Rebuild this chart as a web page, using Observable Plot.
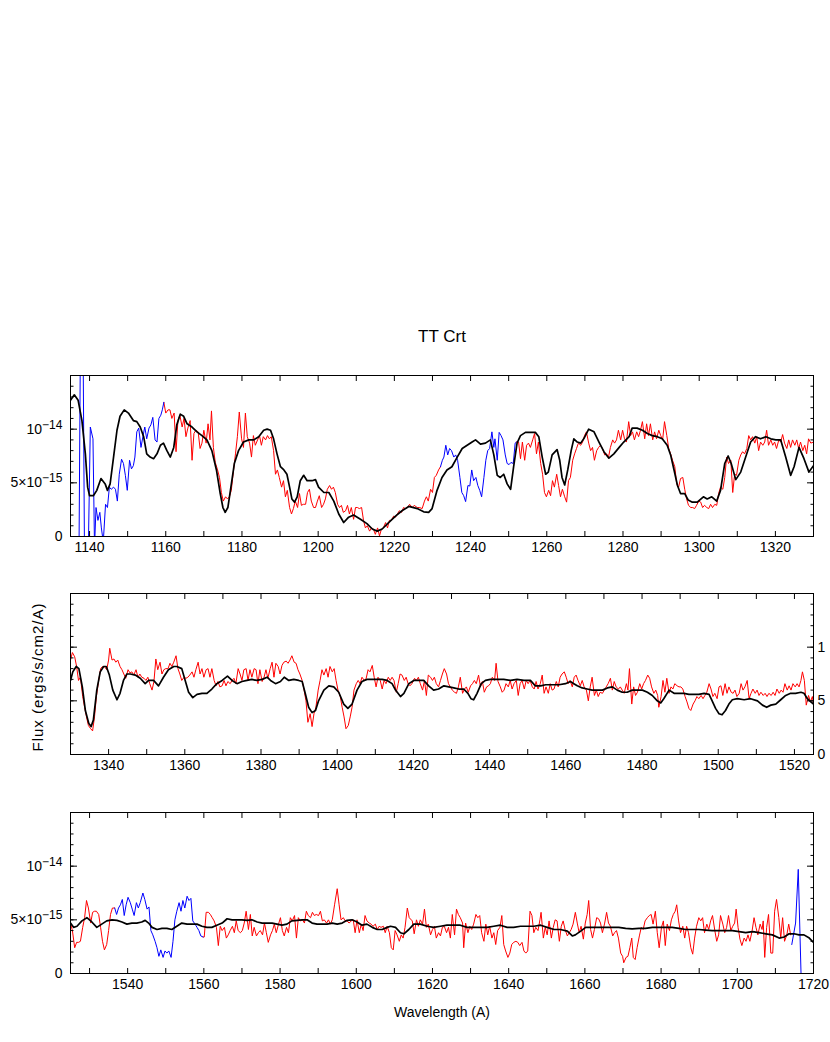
<!DOCTYPE html>
<html><head><meta charset="utf-8">
<script src="https://cdn.jsdelivr.net/npm/d3@7"></script>
<script src="https://cdn.jsdelivr.net/npm/@observablehq/plot@0.6"></script>
<style>
html,body{margin:0;padding:0;background:#fff;overflow:hidden;}
#page{position:relative;width:830px;height:1042px;background:#fff;}
#page svg{position:absolute;left:0;}
</style></head><body><div id="page"></div>
<script>
// Flux values are in units of 1e-15 erg/s/cm2/A; wavelengths in Angstrom.
const UNIT = 1e-15;
const title = "TT Crt";
const xTitle = "Wavelength (A)";
const yTitle = "Flux (ergs/s/cm2/A)";
const panelDomains = [[1135, 1330], [1330, 1525], [1525, 1720]];
const panel1Ticks = [1140,1160,1180,1200,1220,1240,1260,1280,1300,1320];
const panel2Ticks = [1340,1360,1380,1400,1420,1440,1460,1480,1500,1520];
const panel3Ticks = [1540,1560,1580,1600,1620,1640,1660,1680,1700,1720];
const yTickValues = [0, 5, 10];
const yTickLabels = ["0", "5×10^−15", "10^−14"];
const yTickLabelsRight = ["0", "5", "1"]; // as visible at the right edge of the middle panel

// ---- Panel 1 ----
const black1 = [[1135,12.7],[1136,13.2],[1137,12.7],[1138,10.8],[1138.9,7.7],[1139.5,4.6],[1140,3.8],[1141,3.8],[1141.9,4.3],[1143,5.4],[1144.1,4.9],[1144.7,4.3],[1145.4,4.9],[1146.3,7.4],[1147.2,9.9],[1148,11.2],[1149.1,11.8],[1150.2,11.5],[1151.5,10.8],[1152.4,10.7],[1153.3,10.2],[1154.2,9.3],[1155,7.7],[1155.9,7.4],[1156.8,7.25],[1157.7,7.7],[1158.6,8.5],[1159.4,8.7],[1160.3,8.0],[1161.2,7.4],[1162.1,8.3],[1162.9,10.4],[1163.8,11.4],[1164.7,11.2],[1165.6,10.5],[1166.9,10.2],[1168.2,9.75],[1169.5,9.4],[1170.8,9.0],[1172.1,8.0],[1173.3,6.2],[1174.3,4.0],[1175,2.7],[1175.6,2.25],[1176.3,2.7],[1177.1,4.6],[1178,6.8],[1179.1,8.0],[1180.4,8.8],[1181.8,9.0],[1183.1,9.0],[1184.4,9.3],[1185.7,9.9],[1186.6,10.0],[1187.5,9.9],[1188.3,9.1],[1189.2,7.7],[1190.1,6.5],[1191,6.2],[1191.8,5.8],[1192.5,4.6],[1193.1,3.5],[1193.8,3.2],[1194.5,3.7],[1195.3,5.2],[1196.2,5.7],[1197.1,5.2],[1198.4,5.2],[1199.3,5.3],[1200.1,4.6],[1201.5,4.1],[1202.8,4.1],[1204.1,3.3],[1205.4,2.1],[1206.7,1.3],[1208,1.8],[1209.3,2.0],[1211.1,1.6],[1212.8,1.2],[1214.2,0.7],[1215.5,0.5],[1216.8,0.7],[1218.5,1.3],[1220.3,1.9],[1222,2.4],[1223.8,2.8],[1226,2.6],[1227.7,2.3],[1229,2.25],[1229.9,2.6],[1231.2,4.3],[1232.5,5.5],[1233.8,6.2],[1235.1,6.5],[1236.5,7.4],[1237.8,8.2],[1239.1,8.5],[1240.4,8.8],[1241.3,9.0],[1242.6,8.6],[1243.9,8.7],[1245.2,9.0],[1246.1,7.6],[1247,5.7],[1247.8,5.5],[1248.7,5.8],[1249.6,4.9],[1250.5,4.4],[1251.3,6.5],[1252.2,8.7],[1253.1,9.4],[1254.4,9.7],[1255.7,9.7],[1257,9.7],[1257.9,9.3],[1258.8,7.4],[1259.7,5.8],[1260.4,6.0],[1261.4,7.6],[1262.7,8.1],[1263.4,7.1],[1264,5.5],[1264.7,4.8],[1265.5,6.2],[1266.4,8.0],[1267.1,9.1],[1268,8.8],[1268.9,8.7],[1269.7,9.1],[1271,10.0],[1272.4,9.75],[1273.7,8.8],[1275,7.9],[1276.3,7.3],[1277.6,7.7],[1279,8.3],[1280.2,8.8],[1281.6,9.3],[1282.4,10.1],[1283.7,10.1],[1285.1,9.9],[1286.4,9.6],[1287.7,9.4],[1289,9.3],[1290.3,9.1],[1291.6,8.5],[1292.5,7.6],[1293.4,6.2],[1294.3,4.75],[1295.1,4.0],[1296.2,4.0],[1297.1,3.4],[1298.2,3.2],[1299.5,3.2],[1301.1,3.7],[1302.1,3.5],[1303.3,3.7],[1304.6,3.3],[1305.6,4.3],[1306.7,6.8],[1307.6,7.5],[1308.4,6.8],[1309.6,5.3],[1310.9,6.0],[1312.2,7.4],[1313.5,8.8],[1314.8,9.3],[1316.1,9.1],[1317.5,9.3],[1318.8,9.1],[1320.1,9.0],[1321.4,9.0],[1322.7,7.4],[1324,5.7],[1324.9,6.5],[1326.2,8.3],[1327.5,7.25],[1328.8,6.0],[1330,6.6]];
const blue1a = [[1137.2,-3],[1137.6,18],[1138.3,18],[1138.7,-3],[1139.6,-3],[1140.2,10.2],[1140.9,9.1],[1141.3,-1],[1141.7,2.7],[1142.2,1.5],[1142.7,2.25],[1143.1,0.8],[1143.6,-0.5],[1144.2,3.0],[1144.7,2.7],[1145.2,4.6],[1145.7,4.4],[1146.3,4.6],[1146.8,4.4],[1147.3,3.3],[1147.8,5.8],[1148.4,7.2],[1148.9,6.8],[1149.4,5.7],[1149.9,4.3],[1150.5,7.1],[1151,6.3],[1151.5,6.6],[1151.9,7.4],[1152.4,9.75],[1152.9,10.1],[1153.5,8.3],[1154,9.3],[1154.5,10.2],[1155,9.1],[1155.6,10.1],[1156.1,10.4],[1156.6,11.1],[1157.2,9.0],[1157.7,8.8],[1158.2,11.0],[1158.7,11.3],[1159.1,11.8],[1159.5,12.5]];
const red1a = [[1159.5,12.5],[1160,11.5],[1160.6,11.8],[1161.1,11.8],[1161.6,11.0],[1162.2,11.5],[1162.7,7.9],[1163.2,10.8],[1163.7,11.3],[1164.3,10.2],[1164.8,11.0],[1165.3,9.3],[1165.8,10.1],[1166.4,10.8],[1166.9,7.1],[1167.4,9.6],[1167.9,9.9],[1168.5,9.75],[1169,8.2],[1169.5,8.7],[1170,9.9],[1170.6,8.7],[1171.1,10.5],[1171.6,9.0],[1172,11.7],[1172.5,8.3],[1173,6.9],[1173.6,6.2],[1174.1,5.5],[1174.6,4.1],[1175.1,3.3],[1175.7,3.7],[1176.2,3.5],[1176.7,3.7],[1177.2,4.3],[1177.8,6.2],[1178.3,7.7],[1178.8,9.3],[1179.3,11.6],[1179.9,9.1],[1180.4,8.3],[1180.9,11.5],[1181.4,9.3],[1182,8.7],[1182.5,7.4],[1183,9.4],[1183.5,8.5],[1184.1,9.0],[1184.6,9.4],[1185.1,8.5],[1185.6,9.3],[1186.2,9.0],[1186.7,9.4],[1187.2,9.1],[1187.7,9.3],[1188.3,8.0],[1188.8,5.8],[1189.3,6.2],[1189.8,5.5],[1190.4,4.6],[1190.9,5.2],[1191.4,3.7],[1191.9,4.3],[1192.5,2.7],[1193,2.1],[1193.5,2.6],[1194,3.3],[1194.6,2.7],[1195.1,4.0],[1195.6,2.9],[1196.1,3.0],[1196.7,3.0],[1197.2,4.1],[1197.7,4.4],[1198.2,3.3],[1198.8,2.7],[1199.3,2.7],[1199.8,3.3],[1200.3,3.8],[1200.9,2.7],[1201.4,3.0],[1201.9,3.5],[1202.4,4.4],[1203,4.75],[1203.5,4.4],[1204,4.6],[1204.5,4.1],[1205.1,3.0],[1205.6,2.7],[1206.1,2.9],[1206.6,2.25],[1207.2,2.4],[1207.7,2.9],[1208.2,2.1],[1208.7,2.7],[1209.3,1.6],[1209.8,2.7],[1210.3,2.7],[1210.8,2.6],[1211.4,2.7],[1211.9,1.5],[1212.4,0.8],[1212.9,1.0],[1213.5,0.5],[1214,0.8],[1214.5,0.7],[1215,0.2],[1215.6,0.8],[1216.1,0.05],[1216.6,0.7],[1217.1,0.8],[1217.7,1.3],[1218.2,0.8],[1218.7,1.5],[1219.2,1.5],[1219.8,1.9],[1220.3,1.8],[1220.8,2.1],[1221.3,2.4],[1221.9,2.25],[1222.4,2.7],[1222.9,2.6],[1223.4,2.7],[1224,3.0],[1224.7,2.7],[1225.2,2.9],[1226,2.7],[1226.6,2.7],[1227.3,2.6],[1227.9,3.3],[1228.4,3.7],[1228.9,3.3],[1229.5,4.4],[1230,4.1],[1230.5,5.5],[1231,5.7],[1231.6,6.2],[1232.1,6.5]];
const blue1b = [[1232.1,6.5],[1232.6,7.1],[1233,7.4],[1233.5,8.5],[1234,7.6],[1234.5,8.2],[1235,8.0],[1235.6,7.4],[1236.1,7.6],[1236.6,7.1],[1237.2,5.5],[1237.7,4.1],[1238.2,3.8],[1238.7,3.25],[1239.3,4.75],[1239.8,4.7],[1240.3,6.2],[1240.8,5.2],[1241.4,5.5],[1241.9,4.75],[1242.4,4.3],[1242.9,3.7],[1243.5,5.5],[1244,7.1],[1244.5,8.0],[1245,8.2],[1245.6,9.75],[1246.1,8.3],[1246.4,9.1],[1247,7.1],[1247.5,9.7],[1248,9.4],[1248.5,9.0],[1249.1,7.6],[1249.6,6.8],[1250.1,6.7],[1250.6,6.9],[1251.2,6.8],[1251.7,8.7],[1252,8.8]];
const red1b = [[1252,8.8],[1252.6,8.8],[1253.1,7.25],[1253.6,8.8],[1254.2,7.1],[1254.7,8.5],[1255.2,8.7],[1255.7,8.3],[1256.3,9.0],[1256.8,9.6],[1257.3,7.7],[1257.8,8.8],[1258.4,6.8],[1258.9,5.8],[1259.4,4.1],[1259.9,3.7],[1260.5,4.3],[1261,3.8],[1261.5,5.2],[1262,4.6],[1262.6,5.8],[1263.1,4.75],[1263.6,3.7],[1264.1,4.4],[1264.7,3.7],[1265.2,3.2],[1265.7,5.2],[1266.2,5.5],[1266.8,7.1],[1267.3,7.7],[1267.8,8.2],[1268.3,8.7],[1268.9,8.5],[1269.4,8.8],[1269.9,9.4],[1270.4,9.75],[1271,8.7],[1271.5,8.0],[1272,8.3],[1272.5,7.1],[1273.1,8.0],[1273.6,8.3],[1274.1,8.5],[1274.6,8.2],[1275.2,7.6],[1275.7,7.7],[1276.2,7.4],[1276.7,8.3],[1277.3,9.0],[1277.8,8.7],[1278.3,9.0],[1278.8,9.9],[1279.4,9.0],[1279.9,9.9],[1280.4,9.1],[1280.9,8.8],[1281.5,10.7],[1282,9.4],[1282.5,9.75],[1283,9.0],[1283.6,9.75],[1284.1,9.3],[1284.6,9.9],[1285.1,10.7],[1285.7,9.1],[1286.2,10.5],[1286.7,9.4],[1287.2,10.5],[1287.8,9.0],[1288.3,9.75],[1288.8,9.1],[1289.4,9.9],[1289.9,9.4],[1290.4,9.0],[1290.9,10.7],[1291.5,9.4],[1292,8.2],[1292.5,7.7],[1293,7.1],[1293.6,6.5],[1294.1,4.9],[1294.6,4.6],[1295.1,5.4],[1295.7,5.5],[1296.2,4.4],[1296.7,3.5],[1297.2,2.9],[1297.8,2.7],[1298.3,2.7],[1298.8,2.6],[1299.3,2.9],[1299.9,3.3],[1300.4,3.2],[1300.9,2.7],[1301.4,2.9],[1302,2.7],[1302.5,2.6],[1303,3.0],[1303.5,2.7],[1304.1,3.0],[1304.6,2.9],[1305.1,4.0],[1305.6,4.6],[1306.2,4.4],[1306.7,5.5],[1307.2,7.4],[1307.7,6.8],[1308.3,7.1],[1308.8,4.1],[1309.3,5.8],[1309.8,5.7],[1310.4,7.1],[1310.9,7.6],[1311.4,7.9],[1311.9,7.7],[1312.5,8.2],[1313,9.4],[1313.5,9.0],[1314,9.3],[1314.6,8.7],[1315.1,9.3],[1315.6,8.0],[1316.1,8.8],[1316.7,8.5],[1317.2,8.8],[1317.7,9.9],[1318.2,8.5],[1318.8,9.0],[1319.3,8.5],[1319.8,8.8],[1320.3,8.2],[1320.9,9.0],[1321.4,8.8],[1321.9,9.5],[1322.4,8.7],[1323,8.2],[1323.5,9.0],[1324,8.3],[1324.5,9.0],[1325.1,8.5],[1325.6,9.0],[1326.1,8.2],[1326.6,8.8],[1327.2,8.0],[1327.7,8.5],[1328.2,7.7],[1328.7,9.1],[1329.3,8.7],[1330,8.8]];

// ---- Panel 2 ----
const black2 = [[1330,6.9],[1330.6,7.7],[1331.5,8.2],[1332.2,8.0],[1333.1,6.3],[1333.9,4.1],[1334.8,2.9],[1335.4,2.6],[1336,3.2],[1336.9,6.0],[1337.8,7.7],[1338.7,8.2],[1339.4,8.2],[1340.2,7.4],[1341.1,6.0],[1342.2,5.1],[1343,5.7],[1343.9,6.9],[1344.8,7.5],[1345.7,7.5],[1347,7.4],[1348.3,7.1],[1349.6,6.6],[1350.5,6.9],[1351.8,6.9],[1353.1,6.4],[1354.4,7.2],[1355.7,7.9],[1357.1,8.2],[1357.9,8.2],[1359.2,8.0],[1360.1,6.9],[1361,5.8],[1362.1,5.3],[1363.2,5.6],[1364.5,5.7],[1365.8,5.7],[1367.1,6.1],[1368.4,6.6],[1369.8,6.9],[1371.2,7.3],[1372.4,6.9],[1373.7,6.6],[1375,6.8],[1376.3,6.9],[1377.6,7.0],[1378.9,6.9],[1380.3,7.0],[1381.6,7.2],[1382.5,6.9],[1383.8,6.6],[1385.1,6.8],[1386.1,7.2],[1387.3,6.9],[1388.6,7.0],[1389.9,6.9],[1390.8,6.8],[1391.6,5.7],[1392.5,4.4],[1393.4,3.9],[1394.3,4.1],[1395.1,5.0],[1396.5,6.0],[1397.8,6.4],[1399.1,6.3],[1400.4,5.8],[1401.7,4.7],[1402.8,4.3],[1403.9,4.7],[1405.2,6.0],[1406.5,6.8],[1407.8,7.0],[1409.2,7.0],[1410.5,7.0],[1411.8,7.0],[1413.1,6.9],[1414.4,6.6],[1415.3,6.0],[1416.6,5.4],[1417.5,5.7],[1418.8,6.6],[1420.1,6.9],[1421.4,6.9],[1422.7,6.9],[1424,6.4],[1425.3,6.0],[1426.6,6.1],[1428,6.4],[1429.3,6.3],[1430.6,6.2],[1431.9,6.1],[1433.2,6.1],[1434.3,5.7],[1435.1,5.2],[1435.8,5.1],[1436.7,5.7],[1437.8,6.6],[1438.9,6.9],[1440.2,7.0],[1442,7.0],[1443.7,7.0],[1445.5,6.9],[1447.2,7.0],[1449,6.9],[1450.7,6.9],[1452,6.4],[1453.4,6.4],[1454.7,6.5],[1456.4,6.5],[1458.2,6.5],[1459.9,6.6],[1461.2,6.8],[1462.1,6.6],[1463,6.4],[1464.3,6.2],[1465.6,6.1],[1466.9,6.0],[1468.2,6.0],[1469.6,6.0],[1470.9,6.2],[1472.2,6.3],[1473.5,6.0],[1474.8,5.8],[1476.1,5.8],[1477.4,6.0],[1478.7,6.0],[1480.1,6.0],[1481.4,5.8],[1482.7,5.5],[1484,5.0],[1484.9,4.8],[1485.7,5.2],[1487.1,6.0],[1488.4,5.7],[1489.7,5.7],[1491,5.7],[1492.3,5.6],[1493.6,5.6],[1494.9,5.6],[1496.3,5.7],[1497.6,5.6],[1498.4,5.0],[1499.3,4.3],[1500.2,3.8],[1501,3.7],[1501.9,4.1],[1502.8,4.7],[1503.7,5.1],[1505,5.2],[1506.8,5.1],[1508.5,5.2],[1510.3,5.0],[1511.6,4.6],[1512.7,4.4],[1513.8,4.6],[1515.1,4.7],[1516.4,5.1],[1517.7,5.5],[1519,5.7],[1520.3,5.7],[1521.7,5.8],[1522.5,5.7],[1523.4,5.2],[1524.3,4.9],[1525,4.7]];
const red2 = [[1330,8.8],[1330.5,9.5],[1331.1,9.1],[1331.6,8.2],[1332.1,6.9],[1332.6,7.2],[1333.2,5.4],[1333.7,4.4],[1334.2,3.5],[1334.7,2.7],[1335.3,2.4],[1335.8,2.2],[1336.3,3.5],[1336.8,5.4],[1337.4,6.9],[1337.9,8.0],[1338.4,8.2],[1338.9,8.2],[1339.5,7.9],[1340,8.8],[1340.3,9.9],[1340.9,8.8],[1341.4,8.9],[1341.9,8.6],[1342.4,8.8],[1343,8.2],[1343.5,7.9],[1344,7.5],[1344.5,7.1],[1345.1,7.9],[1345.6,7.6],[1346.1,7.7],[1346.6,7.4],[1347.2,7.9],[1347.7,7.2],[1348.2,7.5],[1348.7,7.2],[1349.3,7.1],[1349.8,6.9],[1350.3,7.2],[1350.8,6.6],[1351.4,6.0],[1351.9,6.8],[1352.4,8.9],[1352.9,7.9],[1353.5,8.6],[1354,7.5],[1354.5,7.9],[1355,8.0],[1355.6,8.0],[1356.1,8.5],[1356.6,8.2],[1357.1,8.6],[1357.7,9.2],[1358.2,8.0],[1358.7,7.5],[1359.2,6.9],[1359.8,7.2],[1360.3,7.1],[1360.8,7.2],[1361.3,7.4],[1361.9,7.7],[1362.4,7.2],[1362.9,7.9],[1363.5,8.6],[1364,7.5],[1364.5,8.0],[1365,7.2],[1365.6,7.9],[1366.1,8.0],[1366.6,7.2],[1367.1,8.0],[1367.7,6.9],[1368.2,6.4],[1368.7,6.8],[1369.2,6.3],[1369.8,6.4],[1370.3,6.9],[1370.8,6.4],[1371.3,6.8],[1371.9,6.6],[1372.4,6.9],[1372.9,7.1],[1373.4,6.6],[1374,8.0],[1374.5,7.5],[1375,6.9],[1375.5,7.9],[1376.1,8.0],[1376.6,6.9],[1377.1,7.9],[1377.6,7.2],[1378.2,8.0],[1378.7,7.9],[1379.2,6.6],[1379.7,7.9],[1380.3,6.8],[1380.8,7.2],[1381.3,7.9],[1381.8,7.1],[1382.4,8.0],[1382.9,8.6],[1383.4,7.2],[1383.9,8.5],[1384.5,8.2],[1385,7.5],[1385.5,8.3],[1386,8.6],[1386.6,8.7],[1387.1,8.5],[1387.6,8.8],[1388.1,9.2],[1388.7,8.6],[1389.2,8.5],[1389.7,7.9],[1390.2,7.5],[1390.8,6.9],[1391.3,6.0],[1391.8,5.0],[1392.3,3.0],[1392.9,3.8],[1393.4,2.6],[1393.9,3.8],[1394.4,4.4],[1395,6.0],[1395.5,6.9],[1396,7.9],[1396.5,7.4],[1397.1,8.0],[1397.6,7.2],[1398.1,8.2],[1398.7,7.7],[1399.2,8.0],[1399.7,6.9],[1400.2,6.0],[1400.8,5.4],[1401.3,4.4],[1401.8,3.5],[1402.3,2.4],[1402.9,2.7],[1403.4,3.5],[1403.9,4.4],[1404.4,6.0],[1405,6.6],[1405.5,6.9],[1406,6.6],[1406.5,7.2],[1407.1,6.9],[1407.6,7.1],[1408.1,7.9],[1408.6,7.7],[1409.2,8.3],[1409.7,7.2],[1410.2,6.3],[1410.7,7.2],[1411.3,6.9],[1411.8,6.1],[1412.3,6.9],[1412.8,6.6],[1413.4,7.2],[1413.9,6.9],[1414.4,7.2],[1414.9,6.9],[1415.5,5.8],[1416,6.6],[1416.5,7.5],[1417,7.4],[1417.6,6.9],[1418.1,7.2],[1418.6,6.6],[1419.1,6.4],[1419.6,6.6],[1420.3,7.1],[1420.8,6.9],[1421.3,7.2],[1421.8,6.6],[1422.4,6.0],[1422.9,6.9],[1423.4,5.5],[1423.9,7.4],[1424.5,7.2],[1425,6.9],[1425.5,7.2],[1426,6.6],[1426.6,6.3],[1427.1,6.9],[1427.6,7.5],[1428.1,8.0],[1428.7,7.5],[1429.2,6.6],[1429.7,6.3],[1430.2,6.0],[1430.8,5.8],[1431.3,5.7],[1431.8,6.3],[1432.3,7.2],[1432.9,5.7],[1433.4,6.1],[1433.9,6.3],[1434.4,5.8],[1435,6.4],[1435.5,6.6],[1436,6.9],[1436.5,6.6],[1437.1,7.4],[1437.6,6.3],[1438.1,6.8],[1438.6,5.8],[1439.2,6.3],[1439.7,6.4],[1440.2,6.6],[1440.7,7.2],[1441.3,6.9],[1441.7,8.5],[1442.2,6.8],[1442.8,6.3],[1443.3,5.8],[1443.8,6.0],[1444.3,6.6],[1444.9,6.3],[1445.4,6.9],[1445.9,6.1],[1446.4,6.6],[1447,6.9],[1447.5,5.5],[1448,6.6],[1448.5,6.9],[1449.1,6.1],[1449.6,6.9],[1450.1,6.6],[1450.6,6.9],[1451.2,6.3],[1451.7,6.1],[1452.2,6.8],[1452.7,6.1],[1453.3,6.6],[1453.8,7.4],[1454.3,5.7],[1454.8,6.3],[1455.4,5.7],[1455.9,6.6],[1456.4,6.0],[1456.9,6.1],[1457.5,6.8],[1458,6.3],[1458.5,7.2],[1459,7.5],[1459.6,7.7],[1460.1,7.2],[1460.6,6.6],[1461.1,6.9],[1461.7,6.3],[1462.2,7.2],[1462.7,7.4],[1463.2,6.9],[1463.8,6.4],[1464.3,6.9],[1464.8,6.3],[1465.4,6.0],[1465.9,5.0],[1466.4,6.3],[1466.9,7.2],[1467.5,5.5],[1468,6.0],[1468.5,5.4],[1469,5.8],[1469.6,5.7],[1470.1,6.0],[1470.6,6.3],[1471.1,6.6],[1471.7,7.1],[1472.2,6.0],[1472.7,6.8],[1473.2,6.3],[1473.8,6.1],[1474.3,6.3],[1474.8,6.0],[1475.3,5.7],[1475.9,6.6],[1476.3,6.0],[1476.7,8.0],[1477.3,4.7],[1477.8,6.3],[1478.3,5.5],[1478.8,5.8],[1479.4,6.6],[1479.9,6.1],[1480.4,6.6],[1480.9,6.9],[1481.5,7.4],[1482,7.1],[1482.5,6.3],[1483.1,5.7],[1483.6,6.0],[1484.1,5.5],[1484.4,4.4],[1485,5.4],[1485.5,6.9],[1486,5.8],[1486.5,7.1],[1487.1,5.7],[1487.6,6.3],[1488.1,6.1],[1488.6,6.6],[1489.2,6.4],[1489.7,6.3],[1490.2,6.3],[1490.7,6.1],[1491.3,5.4],[1491.8,4.9],[1492.3,4.3],[1492.8,4.1],[1493.4,4.7],[1493.9,5.0],[1494.4,5.4],[1494.9,5.2],[1495.5,5.5],[1496,5.2],[1496.5,5.5],[1497,5.8],[1497.6,6.6],[1498.1,6.1],[1498.6,5.4],[1499.1,5.7],[1499.7,5.2],[1500.2,6.3],[1500.7,6.4],[1501.2,5.5],[1501.8,6.6],[1502.3,5.7],[1502.8,6.3],[1503.4,5.8],[1503.9,5.7],[1504.4,6.0],[1504.9,5.4],[1505.5,5.7],[1506,6.6],[1506.5,6.0],[1507,6.3],[1507.6,6.9],[1508.1,5.2],[1508.6,5.7],[1509.1,6.1],[1509.7,5.7],[1510.2,6.0],[1510.7,5.5],[1511.2,5.8],[1511.8,5.5],[1512.3,5.7],[1512.8,5.4],[1513.3,5.7],[1513.9,5.5],[1514.4,5.8],[1514.9,5.5],[1515.4,6.1],[1516,5.7],[1516.5,6.0],[1517,5.8],[1517.5,6.6],[1518.1,6.0],[1518.6,6.4],[1519.1,6.0],[1519.6,6.6],[1520.2,6.3],[1520.7,6.6],[1521.2,6.3],[1521.7,6.9],[1522.1,7.7],[1522.6,6.9],[1523.1,4.6],[1523.7,5.5],[1524.2,4.9],[1524.7,5.4],[1525,4.7]];

// ---- Panel 3 ----
const black3 = [[1525,4.7],[1525.8,4.3],[1526.7,4.4],[1528,4.9],[1529.3,5.2],[1530.6,4.8],[1531.9,4.3],[1533.2,4.6],[1534.5,4.9],[1535.9,5.0],[1537.2,4.95],[1538.5,4.8],[1539.8,4.6],[1541.1,4.7],[1542.4,4.7],[1543.7,4.8],[1544.6,4.95],[1545.5,4.7],[1546.4,4.3],[1547.7,4.1],[1549,4.2],[1550.3,4.2],[1551.6,4.1],[1552.9,4.4],[1554.2,4.7],[1555.6,4.6],[1556.9,4.6],[1558.2,4.6],[1559.5,4.4],[1560.8,4.3],[1562.1,4.3],[1563.4,4.5],[1564.8,4.7],[1566.1,5.1],[1567.4,5.0],[1568.7,5.0],[1570,5.0],[1571.3,4.95],[1572.6,5.0],[1574,4.8],[1575.3,4.7],[1576.6,4.7],[1577.9,4.7],[1579.2,4.6],[1580.5,4.5],[1581.8,4.6],[1583.1,4.9],[1584.5,4.95],[1585.8,5.0],[1587.1,5.0],[1588.4,4.7],[1589.7,4.6],[1591,4.6],[1592.3,4.6],[1593.7,4.7],[1595,4.6],[1596.3,4.7],[1597.6,4.95],[1598.9,5.0],[1600.2,4.8],[1601.5,4.5],[1602.8,4.6],[1604.2,4.3],[1605.5,4.1],[1606.8,4.1],[1608.1,4.3],[1609,4.4],[1610.3,4.3],[1611.6,3.8],[1612.5,3.7],[1613.8,4.1],[1615.1,4.6],[1616.8,4.6],[1618.6,4.4],[1620.3,4.3],[1622.1,4.4],[1623.8,4.5],[1625.6,4.5],[1627.3,4.5],[1629.1,4.3],[1630.8,4.3],[1632.6,4.3],[1634.3,4.3],[1636.1,4.4],[1637.8,4.5],[1639.6,4.3],[1641.3,4.3],[1643.1,4.4],[1644.8,4.4],[1646.6,4.4],[1648.4,4.5],[1650.1,4.3],[1651.9,4.1],[1653.6,4.1],[1655.4,3.95],[1656.7,3.5],[1657.5,3.6],[1658.9,3.95],[1660.2,4.3],[1661.9,4.3],[1663.7,4.3],[1665.4,4.3],[1667.2,4.3],[1668.9,4.3],[1670.7,4.2],[1672.4,4.15],[1674.2,4.2],[1675.9,4.2],[1677.7,4.3],[1679.4,4.3],[1681.2,4.3],[1682.9,4.3],[1684.7,4.2],[1686.4,4.1],[1688.2,4.1],[1689.9,4.1],[1691.7,4.05],[1693.4,4.0],[1695.2,4.0],[1696.9,4.0],[1698.7,4.0],[1700.5,3.9],[1702.2,3.8],[1704,3.9],[1705.7,3.8],[1707.5,3.7],[1709.2,3.6],[1711,3.3],[1712.3,3.4],[1713.6,3.7],[1714.9,3.7],[1716.2,3.6],[1717.5,3.6],[1718.9,3.3],[1720,2.9]];
const red3a = [[1525,4.7],[1525.5,4.0],[1526.1,2.4],[1526.6,2.9],[1527.1,2.9],[1527.6,3.0],[1528.2,4.3],[1528.7,5.2],[1529.2,6.8],[1529.7,6.1],[1530.3,4.7],[1530.8,5.7],[1531.3,5.8],[1531.8,5.8],[1532.4,5.5],[1532.9,4.3],[1533.4,3.0],[1533.9,2.2],[1534.5,2.7],[1535,4.0],[1535.5,5.5],[1536,6.1],[1536.6,6.1]];
const blue3a = [[1536.6,6.1],[1537.1,5.5],[1537.6,6.1],[1538.1,6.4],[1538.6,6.9],[1539.1,5.4],[1539.6,6.4],[1540.1,7.1],[1540.7,6.6],[1541.2,6.0],[1541.7,5.4],[1542.3,6.6],[1542.8,6.1],[1543.3,6.6],[1544,7.5],[1544.5,6.9],[1545.1,6.0],[1545.6,6.2],[1546.1,4.0],[1546.6,3.6],[1547.2,3.0],[1547.7,2.4],[1548.2,1.6],[1548.7,2.2],[1549.3,1.5],[1549.8,2.1],[1550.3,1.9],[1550.8,2.1],[1551.4,1.5],[1551.9,3.0],[1552.4,5.0],[1552.9,5.8],[1553.5,6.6],[1554,5.8],[1554.5,6.8],[1555,6.1],[1555.6,7.2],[1556.1,6.8],[1556.6,7.0],[1557.1,4.9],[1557.7,4.6],[1558.2,4.3],[1558.7,4.0],[1559.2,3.5],[1559.8,3.4]];
const red3b = [[1559.8,3.4],[1560.1,3.4],[1560.6,5.7],[1561.2,5.7],[1561.7,5.5],[1562.2,5.2],[1562.7,4.9],[1563.3,4.3],[1563.8,2.6],[1564.3,4.4],[1564.8,4.0],[1565.4,4.3],[1565.9,3.3],[1566.4,3.6],[1566.9,4.0],[1567.5,4.4],[1568,3.8],[1568.5,4.9],[1569,4.0],[1569.6,3.8],[1570.1,4.0],[1570.6,4.7],[1571.1,5.8],[1571.7,4.1],[1572.2,5.5],[1572.7,3.5],[1573.2,4.3],[1573.8,3.5],[1574.3,3.8],[1574.8,4.0],[1575.4,3.6],[1575.9,4.7],[1576.4,3.8],[1576.9,2.9],[1577.5,3.6],[1578,4.0],[1578.5,4.6],[1579,3.8],[1579.6,4.6],[1580.1,5.2],[1580.6,4.0],[1581.1,3.5],[1581.7,4.3],[1582.2,3.8],[1582.7,5.2],[1583.2,4.9],[1583.8,5.4],[1584.3,3.3],[1584.8,5.2],[1585.3,4.9],[1585.9,5.0],[1586.4,4.7],[1586.9,5.8],[1587.4,5.4],[1588,5.2],[1588.5,5.7],[1589,5.4],[1589.5,5.5],[1590.1,5.4],[1590.6,5.8],[1591.1,4.9],[1591.6,5.0],[1592.2,4.7],[1592.7,5.0],[1593.2,4.6],[1593.7,5.0],[1594.3,6.4],[1595,7.9],[1595.5,6.4],[1596,5.0],[1596.6,5.2],[1597.1,4.9],[1597.6,4.9],[1598.1,4.7],[1598.7,4.9],[1599.2,5.0],[1599.7,3.8],[1600.2,5.0],[1600.8,3.8],[1601.3,4.6],[1601.8,4.0],[1602.3,5.4],[1602.8,4.9],[1603.4,4.7],[1603.9,4.6],[1604.4,4.4],[1605,4.6],[1605.5,4.1],[1606,4.4],[1606.5,4.3],[1607.1,4.4],[1607.6,3.8],[1608.1,4.4],[1608.7,3.8],[1609.2,2.4],[1609.7,2.2],[1610.2,4.0],[1610.7,3.6],[1611.3,3.0],[1611.8,3.6],[1612.3,3.3],[1612.8,4.3],[1613.4,6.1],[1613.9,5.2],[1614.7,4.9],[1615.2,3.7],[1615.8,5.0],[1616.3,4.4],[1616.8,5.0],[1617.4,4.6],[1617.9,6.0],[1618.4,4.3],[1618.9,4.6],[1619.5,3.6],[1620,4.1],[1620.5,4.4],[1621,3.3],[1621.6,3.8],[1622.1,3.5],[1622.6,4.3],[1623.1,4.4],[1623.7,3.8],[1624.2,4.3],[1624.7,3.3],[1625.2,5.5],[1625.8,3.6],[1626.3,6.0],[1626.8,5.5],[1627.3,5.2],[1627.9,4.7],[1628.2,2.4],[1628.7,4.7],[1629.3,3.8],[1629.8,4.4],[1630.3,4.1],[1630.8,4.6],[1631.4,5.5],[1631.9,5.2],[1632.4,5.4],[1632.9,3.8],[1633.5,3.0],[1634,4.6],[1634.5,3.6],[1635,4.4],[1635.6,3.3],[1636.1,3.8],[1636.6,2.7],[1637.1,4.0],[1637.7,4.3],[1638.2,5.4],[1638.7,2.7],[1639.2,2.1],[1639.8,1.5],[1640.3,1.9],[1640.8,2.7],[1641.3,2.9],[1641.9,3.0],[1642.4,2.9],[1642.9,2.6],[1643.5,2.9],[1644,2.1],[1644.5,1.9],[1645,2.1],[1645.6,5.8],[1646.1,5.4],[1646.6,3.8],[1647.1,4.3],[1647.7,4.0],[1648.2,5.0],[1648.5,5.7],[1649.1,3.3],[1649.6,4.3],[1650.1,3.6],[1650.6,4.9],[1651.2,3.3],[1651.7,4.3],[1652.2,5.0],[1652.7,4.9],[1653.3,3.0],[1653.8,4.4],[1654.3,4.9],[1654.8,4.1],[1655.4,3.5],[1655.9,3.8],[1656.4,4.1],[1656.9,4.6],[1657.5,5.7],[1658,4.7],[1658.5,3.8],[1659,4.4],[1659.6,3.2],[1660.1,4.7],[1660.6,5.5],[1661,6.8],[1661.5,4.1],[1662,3.3],[1662.5,4.1],[1663.1,5.2],[1663.6,5.1],[1664.1,4.7],[1664.6,3.8],[1665.2,4.7],[1665.7,5.7],[1666.2,4.7],[1666.7,4.4],[1667.3,3.5],[1667.8,3.8],[1668.3,4.0],[1668.8,3.3],[1669.4,1.9],[1669.9,1.6],[1670.2,1.0],[1670.8,1.5],[1671.3,1.6],[1671.8,2.4],[1672.3,3.3],[1672.7,1.5],[1673.2,1.3],[1673.7,2.4],[1674.3,3.5],[1674.8,4.3],[1675.3,4.1],[1675.8,4.9],[1676.4,5.2],[1676.9,5.4],[1677.4,5.5],[1677.9,4.6],[1678.5,5.8],[1679,3.8],[1679.5,2.4],[1680.1,4.3],[1680.6,4.9],[1681.1,2.6],[1681.6,4.6],[1682.2,4.0],[1682.7,5.0],[1683.2,5.5],[1683.7,5.8],[1684.1,6.4],[1684.6,4.9],[1685.1,3.8],[1685.7,4.4],[1686.2,3.3],[1686.7,4.4],[1687.2,3.8],[1687.8,2.4],[1688.3,1.8],[1688.8,3.3],[1689.3,4.4],[1689.9,5.2],[1690.4,4.9],[1690.9,5.2],[1691.4,3.8],[1692,4.6],[1692.5,4.1],[1693,4.9],[1693.5,5.4],[1694.1,4.0],[1694.6,3.0],[1695.1,3.6],[1695.6,5.4],[1696.2,4.6],[1696.7,3.8],[1697.2,4.3],[1697.7,5.4],[1698.3,4.0],[1698.8,4.4],[1699.3,4.7],[1699.7,6.0],[1700.2,4.3],[1700.7,3.2],[1701.2,2.6],[1701.8,3.3],[1702.3,3.0],[1702.8,3.6],[1703.3,3.0],[1703.9,4.0],[1704.4,5.2],[1704.9,4.3],[1705.4,3.6],[1706,4.6],[1706.5,4.1],[1706.8,4.9],[1707.2,1.5],[1707.7,4.3],[1708.2,5.5],[1708.8,1.9],[1709.3,1.9],[1709.8,5.8],[1710.3,6.9],[1710.9,5.2],[1711.4,3.3],[1711.9,5.2],[1712.4,3.0],[1713,3.6],[1713.5,4.6],[1714,3.6]];
const blue3b = [[1714.3,2.7],[1715.3,4.7],[1716,9.7],[1716.8,-1]];

const FONT = "'Liberation Sans', Arial, Helvetica, sans-serif";
const FRAME_H = 161;

function lineMark(data, stroke, strokeWidth) {
  return Plot.line(data, {x: d => d[0], y: d => d[1] * UNIT, stroke, strokeWidth, clip: true, curve: "linear"});
}

function panel({domain, labels, reds, blues, black, top, marginTop, marginBottom, labelSide, extra}) {
  const [x0, x1] = domain;
  const xMinor = d3.range(Math.ceil(x0 / 10) * 10, x1 + 0.001, 10);
  const yMinor = d3.range(0, 16).map(v => v * UNIT);
  const yMajor = yTickValues.map(v => v * UNIT);
  const texts = labelSide === "left" ? yTickLabels : yTickLabelsRight;
  const labelOf = new Map(yTickValues.map((v, i) => [v * UNIT, texts[i]]));
  const marks = [
    ...reds.map(d => lineMark(d, "#ff0000", 1)),
    ...blues.map(d => lineMark(d, "#0000ff", 1)),
    lineMark(black, "#000000", 1.7),
    Plot.frame({stroke: "black", strokeWidth: 1}),
    Plot.axisX({ticks: xMinor, anchor: "bottom", tickSize: 5, dy: -5, tickFormat: () => "", label: null}),
    Plot.axisX({ticks: xMinor, anchor: "top", tickSize: 5, dy: 5, tickFormat: () => "", label: null}),
    Plot.axisX({ticks: labels, anchor: "bottom", tickSize: 0, tickPadding: 6, tickFormat: d => String(d), fontSize: 14, fontFamily: FONT, label: null}),
    Plot.axisY({ticks: yMinor, anchor: "left", tickSize: 3.5, dx: 3.5, tickFormat: () => "", label: null}),
    Plot.axisY({ticks: yMajor, anchor: "left", tickSize: 7, dx: 7, tickFormat: () => "", label: null}),
    Plot.axisY({ticks: yMinor, anchor: "right", tickSize: 3.5, dx: -3.5, tickFormat: () => "", label: null}),
    Plot.axisY({ticks: yMajor, anchor: "right", tickSize: 7, dx: -7, tickFormat: () => "", label: null}),
    Plot.axisY({ticks: yMajor, anchor: labelSide, tickSize: 0, tickPadding: labelSide === "left" ? 8 : 4, tickFormat: d => labelOf.get(d), fontSize: 14, fontFamily: FONT, label: null}),
    ...extra
  ];
  const svg = Plot.plot({
    width: 830,
    height: marginTop + FRAME_H + marginBottom,
    marginLeft: 70, marginRight: 17, marginTop, marginBottom,
    x: {domain, axis: null},
    y: {domain: [0, 15 * UNIT], axis: null},
    style: {background: "white", color: "black", fontFamily: FONT, overflow: "visible"},
    marks
  });
  svg.style.top = top + "px";
  // exponents as raised tspans
  d3.select(svg).selectAll("text").each(function () {
    const t = this.textContent;
    const i = t.indexOf("^");
    if (i < 0) return;
    const s = d3.select(this);
    s.text(t.slice(0, i));
    s.append("tspan").attr("dy", "-0.42em").attr("font-size", "0.86em").text(t.slice(i + 1));
  });
  d3.select(svg).selectAll("text").filter(function () { return this.textContent === yTitle; })
    .attr("letter-spacing", "1px");
  return svg;
}

const page = document.getElementById("page");
page.append(panel({
  domain: panelDomains[0], labels: panel1Ticks, reds: [red1a, red1b], blues: [blue1a, blue1b], black: black1,
  top: 320, marginTop: 55, marginBottom: 30, labelSide: "left",
  extra: [Plot.text([title], {text: d => d, frameAnchor: "top", dy: -46, fontSize: 17, fontFamily: FONT, fill: "black"})]
}));
page.append(panel({
  domain: panelDomains[1], labels: panel2Ticks, reds: [red2], blues: [], black: black2,
  top: 578, marginTop: 15, marginBottom: 30, labelSide: "right",
  extra: [Plot.text([yTitle], {text: d => d, frameAnchor: "left", textAnchor: "middle", dx: -32, dy: 3, rotate: -90, fontSize: 15, fontFamily: FONT, fill: "black"})]
}));
page.append(panel({
  domain: panelDomains[2], labels: panel3Ticks, reds: [red3a, red3b], blues: [blue3a, blue3b], black: black3,
  top: 797, marginTop: 15, marginBottom: 60, labelSide: "left",
  extra: [Plot.text([xTitle], {text: d => d, frameAnchor: "bottom", dy: 43, fontSize: 14, fontFamily: FONT, fill: "black"})]
}));
</script></body></html>
